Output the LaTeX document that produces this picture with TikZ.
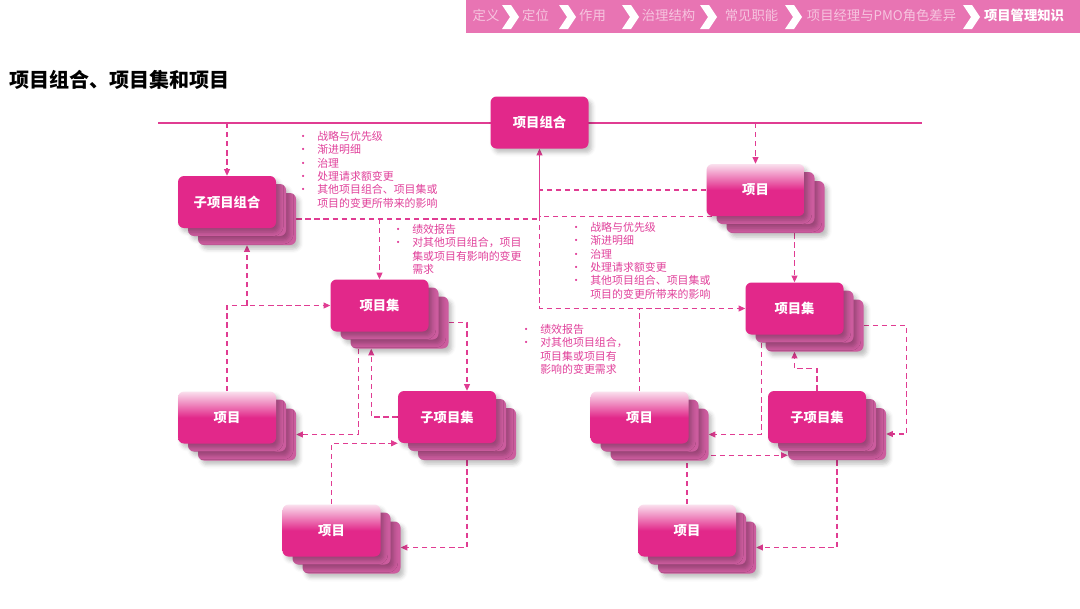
\documentclass[tikz,border=0pt]{standalone}
\usepackage{fontspec}
\setmainfont{Noto Sans CJK SC}
\usetikzlibrary{arrows.meta,shadows.blur}
\definecolor{pmain}{HTML}{E2288A}
\definecolor{playr}{HTML}{CC5C9E}
\definecolor{plight}{HTML}{FAE0EE}
\definecolor{pline}{HTML}{E03C92}
\definecolor{ptext}{HTML}{E0409A}
\definecolor{barpink}{HTML}{E874B3}
\definecolor{crumbfade}{HTML}{F6C4DF}

\pgfdeclarelayer{wires}
\pgfsetlayers{wires,main}

\tikzset{
  box/.style={minimum width=73.5pt, minimum height=39pt, inner sep=0pt,
    rounded corners=4.5pt, text=white, font=\bfseries\fontsize{10}{12}\selectfont,
    blur shadow={shadow xshift=2.5pt, shadow yshift=-3pt, shadow blur radius=3pt, shadow opacity=25}},
  groupbox/.style={box, fill=pmain},
  projbox/.style={box, top color=plight, bottom color=pmain, middle color=pmain},
  layerbox/.style={box, fill=playr},
  flow/.style={pline, line width=0.8pt, dash pattern=on 4pt off 2.8pt,
    -{Triangle[length=5pt,width=4.5pt]}},
  link/.style={flow, -},
  solidflow/.style={flow, solid},
  rail/.style={pline, line width=1.1pt},
  crumb/.style={text=crumbfade, font=\fontsize{10}{12}\selectfont, inner sep=1pt},
  note/.style={anchor=north west, inner sep=0pt, text=ptext, font=\fontsize{8.2}{10}\selectfont}
}

% stacked box: two back layers, then the front one
\newcommand\stackbox[4]{%
  \node[layerbox] (#1c) at ([shift={(20,17)}]#2) {};
  \node[layerbox] (#1b) at ([shift={(10,8)}]#2) {};
  \node[#3] (#1) at (#2) {#4};}
\newcommand\bul{\makebox[6pt][c]{\fontsize{8}{8}\selectfont\textbullet}}

\begin{document}
\begin{tikzpicture}[x=0.75pt, y=-0.75pt]
\useasboundingbox (0,0) rectangle (1080,608);
\begin{pgfonlayer}{wires}
  \fill[white] (0,0) rectangle (1080,608);
\end{pgfonlayer}
% first use of the box shadow, off the page
\node[box, fill=white] (warmup) at (1300,800) {};

% Header bar
\fill[barpink] (466,0) rectangle (1080,33);
\foreach \cx in {502,559,622,700,785,963}
  \fill[white] (\cx,5) -- ++(9,0) -- ++(8,12) -- ++(-8,12) -- ++(-9,0) -- ++(8,-12) -- cycle;
\node[crumb] (c1) at (486,15) {定义};
\node[crumb] (c2) at (535.5,15) {定位};
\node[crumb] (c3) at (592.5,15) {作用};
\node[crumb] (c4) at (668.5,15) {治理结构};
\node[crumb] (c5) at (751.5,15) {常见职能};
\node[crumb] (c6) at (881.5,15) {项目经理与PMO角色差异};
\node[crumb, text=white, font=\bfseries\fontsize{10}{12}\selectfont] (c7) at (1024,15) {项目管理知识};

% Title
\node[anchor=west, inner sep=0pt, font=\bfseries\fontsize{15}{18}\selectfont] (title) at (9,80) {项目组合、项目集和项目};

% Boxes
\stackbox{spf}{227,202}{groupbox}{子项目组合}
\stackbox{pgL}{379.5,305.5}{groupbox}{项目集}
\stackbox{sprL}{447,417}{groupbox}{子项目集}
\stackbox{prL1}{227,417.5}{projbox}{项目}
\stackbox{prL2}{331.5,530.5}{projbox}{项目}
\stackbox{prR1}{755.5,190}{projbox}{项目}
\stackbox{pgR}{794.5,308.5}{groupbox}{项目集}
\stackbox{sprR}{817,417}{groupbox}{子项目集}
\stackbox{prR2}{639.5,417.5}{projbox}{项目}
\stackbox{prR3}{687,530.5}{projbox}{项目}
\node[groupbox] (pf) at (539.5,122.5) {项目组合};

% Notes
\node[note] (downL) at (299,131) {\begin{tabular}{@{}c@{\hspace{7.5pt}}l@{}}
  \bul & 战略与优先级\\ \bul & 渐进明细\\ \bul & 治理\\ \bul & 处理请求额变更\\
  \bul & 其他项目组合、项目集或\\ & 项目的变更所带来的影响\end{tabular}};
\node[note] (upL) at (394,224) {\begin{tabular}{@{}c@{\hspace{7.5pt}}l@{}}
  \bul & 绩效报告\\ \bul & 对其他项目组合，项目\\ & 集或项目有影响的变更\\ & 需求\end{tabular}};
\node[note] (downR) at (572,222) {\begin{tabular}{@{}c@{\hspace{7.5pt}}l@{}}
  \bul & 战略与优先级\\ \bul & 渐进明细\\ \bul & 治理\\ \bul & 处理请求额变更\\
  \bul & 其他项目组合、项目集或\\ & 项目的变更所带来的影响\end{tabular}};
\node[note] (upR) at (522,324) {\begin{tabular}{@{}c@{\hspace{7.5pt}}l@{}}
  \bul & 绩效报告\\ \bul & 对其他项目组合，\\ & 项目集或项目有\\ & 影响的变更需求\end{tabular}};

% Connectors, behind the boxes
\begin{pgfonlayer}{wires}
  \coordinate (railL) at (158,123);
  \coordinate (railR) at (922,123);
  \draw[rail] (railL) -- (railR);
  \draw[flow] (railL -| spf.north) -- (spf.north);
  \draw[flow] (railL -| prR1.north) -- (prR1.north);
  % top: project -> portfolio, portfolio -> programme
  \draw[link] (prR1.west) -- (prR1.west -| pf.south);
  \draw[solidflow] (pf.south |- prR1.south) -- (pf.south);
  \draw[flow] ([shift={(6,0)}]prR1.south west) -- (prR1.south west -| pf.south) |- (pgR.west);
  \draw[link] (spfc.east) -- (spfc.east -| pf.south);
  \draw[flow] (spfc.east -| pgL.north) -- (pgL.north);
  \draw[flow] (prR1c.south -| pgR.north) -- (pgR.north);
  % left group
  \draw[flow] (prL1.north) |- (pgL.west);
  \draw[flow] (pgL.west -| spfc.south) -- (spfc.south);
  \draw[flow] ([shift={(8,0)}]pgLc.south west) |- (prL1c.east);
  \draw[flow] (sprL.west) -| ([shift={(21,0)}]pgLc.south west);
  \draw[flow] (pgLc.east) -| (sprL.north -| sprLc.north);
  \draw[flow] (prL2.north) |- (sprL.south west);
  \draw[flow] (sprLc.south) |- (prL2c.east);
  % right group
  \draw[link] (prR2.north) -- (prR2.north |- pgR.west);
  \draw[flow] ([shift={(6,0)}]pgRb.south west) |- (prR2c.east);
  \draw[flow] (sprR.north) -- ++(0,-22) -| (pgR.south |- pgRc.south);
  \draw[flow] (pgRc.east) -- ++(43,0) |- (sprRc.east);
  \draw[flow] (prR3.north) |- ([shift={(0,-5)}]sprRc.south west);
  \draw[flow] (sprRc.south) |- (prR3c.east);
\end{pgfonlayer}

\end{tikzpicture}
\end{document}
